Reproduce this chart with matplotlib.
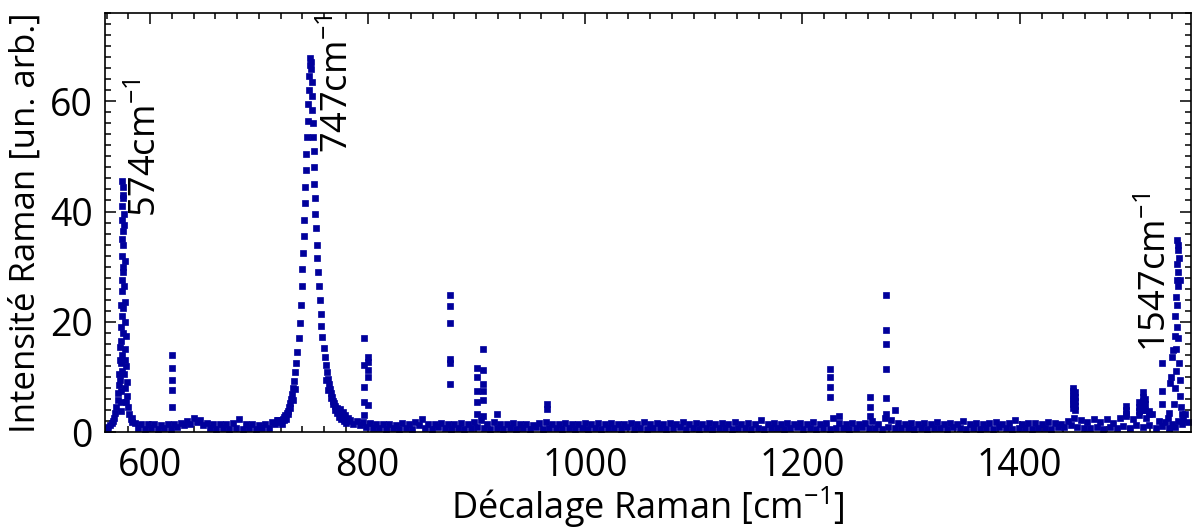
# Raman spectrum, scatter of square markers with three labelled peaks

import numpy as np
import matplotlib.pyplot as plt
from matplotlib.ticker import MultipleLocator

plt.rcParams['font.family'] = ['Open Sans', 'DejaVu Sans']
plt.rcParams['mathtext.fontset'] = 'custom'
plt.rcParams['mathtext.rm'] = 'Open Sans'
plt.rcParams['mathtext.it'] = 'Open Sans:italic'
plt.rcParams['mathtext.bf'] = 'Open Sans:bold'

# baseline between the 574 and 747 peaks, sampled every 3 cm-1
base_a_start = 583
base_a_y = [2.5, 1.6, 0.8, 1.5, 0.6, 1.4, 0.7, 1.5, 0.5, 1.3,
            0.8, 1.5, 0.6, 1.4, 0.9, 1.7, 1.2, 2.0, 1.5, 2.6,
            1.8, 2.2, 1.2, 1.7, 0.7, 1.4, 0.6, 1.5, 0.8, 1.4,
            0.5, 1.6, 0.8, 2.3, 0.6, 1.4, 0.7, 1.5, 0.6, 1.3,
            0.8, 1.5, 0.7, 1.9, 1.4, 2.1]

# baseline after the 747 peak up to the end of the range
base_b_start = 784
base_b_y = [2.2, 1.5, 2.0, 1.2, 1.8, 0.9, 1.6, 0.7, 1.5, 0.8,
            1.4, 0.6, 1.5, 0.7, 1.3, 0.5, 1.6, 0.8, 1.4, 0.6,
            1.9, 1.2, 2.4, 0.8, 1.5, 0.6, 1.4, 0.9, 1.6, 0.7,
            1.5, 0.6, 1.4, 0.8, 1.7, 0.5, 1.4, 0.8, 1.9, 1.0,
            2.2, 0.7, 1.5, 0.6, 1.8, 0.8, 1.4, 0.6, 1.5, 0.7,
            1.6, 0.5, 1.4, 0.8, 1.5, 0.6, 1.3, 0.9, 1.6, 0.6,
            1.8, 0.7, 1.5, 0.8, 1.4, 0.5, 1.6, 0.7, 1.5, 0.6,
            1.4, 0.8, 1.6, 0.6, 1.5, 0.7, 1.7, 0.5, 1.4, 0.8,
            1.6, 0.7, 1.5, 0.6, 1.4, 0.9, 1.7, 0.5, 1.5, 0.8,
            1.8, 0.6, 1.5, 0.7, 1.6, 0.8, 1.4, 0.6, 1.7, 0.7,
            1.5, 0.9, 1.8, 0.6, 1.4, 0.7, 1.6, 0.5, 1.5, 0.8,
            1.7, 0.6, 1.4, 0.8, 1.6, 0.7, 1.5, 0.6, 1.9, 0.8,
            1.5, 0.7, 1.6, 0.5, 1.4, 0.8, 2.1, 0.6, 1.5, 0.7,
            1.6, 0.8, 1.4, 0.6, 1.7, 0.7, 1.5, 0.9, 1.6, 0.6,
            1.5, 0.7, 1.8, 0.6, 1.4, 0.8, 1.6, 0.5, 2.5, 0.7,
            1.6, 0.8, 1.5, 0.6, 1.7, 0.7, 1.4, 0.9, 1.6, 0.8,
            2.0, 0.7, 1.5, 0.6, 2.6, 1.0, 2.2, 0.8, 1.6, 0.7,
            1.5, 0.8, 1.7, 0.6, 1.4, 0.7, 1.6, 0.5, 1.5, 0.8,
            1.8, 0.7, 1.5, 0.6, 1.6, 0.9, 1.4, 0.7, 2.0, 0.6,
            1.5, 0.8, 1.7, 0.6, 1.4, 0.7, 1.6, 0.5, 1.8, 0.9,
            1.5, 0.7, 1.6, 0.6, 2.1, 0.8, 1.5, 0.7, 1.7, 0.6,
            1.6, 0.8, 1.5, 0.7, 1.8, 0.6, 1.6, 0.9, 1.5, 1.0,
            2.0, 1.2, 2.6, 1.0, 2.2, 0.8, 1.9, 0.7, 2.4, 0.9,
            1.8, 0.6, 2.3, 1.0, 1.7, 0.7, 2.5, 1.1, 2.9, 0.8,
            2.4, 1.2, 3.0, 0.9, 2.6, 1.3, 3.2, 0.8, 2.0, 1.1,
            1.8, 0.7, 1.5, 0.9, 2.0, 1.4, 3.3, 1.8]
base_step = 3

# peak at 574 cm-1
p574_x = [560, 561.5, 563, 564.5, 566, 567, 568, 569, 570, 570.5,
          571, 571.5, 572, 572.5, 572.5, 573, 573, 573.5, 573.5, 574,
          574, 574, 574.5, 574.5, 574.5, 575, 575, 575, 575.5, 575.5,
          576, 576, 576.5, 576.5, 577, 577, 577.5, 578, 578.5, 579,
          580, 581, 582, 583,
          573, 573.5, 574, 574.5, 575, 575.5, 576, 576.5, 577, 577.5,
          574, 575, 574.5, 575.5, 576, 573.5]
p574_y = [0.6, 0.9, 1.2, 1.6, 2.0, 2.6, 3.4, 4.5, 5.8, 7.0,
          8.5, 10.5, 13.0, 15.5, 9.5, 19.0, 12.5, 23.0, 16.5, 27.5,
          21.0, 45.5, 32.0, 41.0, 25.5, 44.5, 36.5, 29.0, 42.5, 34.0,
          39.5, 26.5, 31.0, 20.0, 23.5, 15.0, 17.5, 12.0, 9.0, 6.5,
          4.6, 3.2, 2.4, 1.8,
          5.5, 7.5, 11.0, 14.0, 18.0, 22.5, 10.5, 13.0, 8.0, 5.5,
          38.5, 43.0, 35.0, 30.0, 37.5, 3.8]

# peak at 747 cm-1
p747_x = [717, 719, 720, 721, 721.5, 722, 723, 723.5, 724.5, 725, 725.5,
          726.5, 727, 727.5, 728.5, 729, 729.5, 730.5, 731, 731.5, 732.5,
          733, 733.5, 734.5, 735.5, 736.5, 737.5, 738.5, 739.3, 740, 740.6,
          741.2, 741.8, 742.3, 742.8, 743.3, 743.8, 744.3, 744.8, 745.3,
          745.8, 746.3, 746.8, 747.3, 747.8,
          748.3, 748.7, 749, 749.3, 749.6, 750, 750.4, 750.8, 751.2, 751.6,
          752.1, 752.6, 753.2, 753.8, 754.5, 755.2, 756, 756.8, 757.6,
          758.5, 759.5, 760.5, 761.5, 762, 762.5, 763.5, 764, 764.5, 765.5,
          766, 766.5, 767.5, 768, 768.5, 769.5, 770, 770.5, 771.5, 772,
          772.5, 773.5, 774, 774.5, 775, 775.5, 776, 776.5, 777, 777.5,
          778, 778.5, 779, 779.5, 780, 781, 782]
p747_y = [2.2, 1.8, 2.0, 2.2, 1.4, 2.4, 2.1, 2.7, 3.0, 2.4, 3.4,
          3.9, 3.3, 4.5, 5.2, 4.4, 6.0, 6.9, 5.8, 8.0, 9.3,
          7.8, 10.8, 12.5, 14.6, 17.0, 19.8, 23.0, 26.5, 29.5, 32.5,
          35.5, 38.5, 41.5, 44.5, 47.5, 50.5, 53.5, 56.5, 59.5,
          62.0, 64.5, 66.5, 67.8, 67.2,
          65.8, 63.5, 61.0, 58.5, 56.0, 53.5, 51.0, 48.0, 45.0, 42.5,
          39.5, 37.0, 34.0, 31.5, 29.0, 26.5, 24.0, 21.5, 19.3,
          17.2, 15.3, 13.6, 12.1, 9.5, 10.8, 9.7, 7.6, 8.7, 7.8,
          6.2, 7.0, 6.3, 5.0, 5.7, 5.2, 4.0, 4.7, 4.3, 3.4,
          3.9, 3.6, 2.8, 3.3, 4.2, 3.0, 2.4, 2.8, 3.6, 2.6,
          2.0, 2.4, 3.0, 2.2, 1.6, 2.0, 2.5]

# peak at 1547 cm-1
p1547_x = [1536, 1537, 1538, 1539, 1540, 1541, 1542, 1542.5, 1543, 1543,
           1543.5, 1544, 1544, 1544.5, 1544.5, 1545, 1545, 1545, 1545.5, 1545.5,
           1546, 1546, 1546, 1546.5, 1546.5, 1547, 1547, 1547.5, 1548, 1549,
           1550]
p1547_y = [2.6, 3.4, 8.9, 10.0, 13.6, 14.9, 5.0, 17.5, 8.0, 21.0,
           11.0, 24.5, 15.0, 27.5, 19.0, 30.5, 34.8, 23.0, 33.0, 26.5,
           34.0, 29.0, 17.0, 31.5, 12.5, 27.5, 9.5, 6.5, 4.5, 3.2,
           2.4]

# isolated spikes (cosmic rays and weak bands)
spike_x = [620, 620, 620, 620, 620,
           797, 797, 797, 797, 797,
           800, 800, 800, 800, 800,
           876, 876, 876, 876, 876, 876,
           901, 901, 901, 901, 901,
           906, 906, 906, 906, 906, 906,
           919, 965, 965,
           1225, 1225, 1225, 1225, 1234,
           1262, 1262, 1262,
           1277, 1277, 1277, 1277, 1277, 1277, 1285,
           1449, 1449, 1449, 1449, 1449, 1449, 1449,
           1451, 1451, 1451, 1451, 1451,
           1498, 1498, 1498, 1510, 1510, 1510,
           1513, 1513, 1513, 1513, 1513, 1515, 1515, 1515, 1519, 1519,
           1531, 1531, 1531]
spike_y = [14.0, 11.6, 9.4, 7.6, 4.5,
           17.0, 12.2, 8.2, 5.4, 3.1,
           13.6, 12.7, 11.3, 10.0, 4.9,
           24.9, 22.9, 19.8, 13.2, 12.5, 8.7,
           11.6, 10.0, 7.4, 5.4, 3.3,
           15.0, 11.2, 8.7, 7.4, 5.8, 2.9,
           3.3, 5.1, 4.2,
           11.4, 10.0, 8.2, 6.4, 2.9,
           6.4, 4.5, 2.9,
           24.9, 18.5, 16.0, 11.4, 6.2, 3.3, 4.0,
           8.0, 7.4, 6.8, 6.2, 5.6, 5.0, 4.4,
           7.2, 6.4, 5.6, 4.8, 4.0,
           4.8, 4.0, 3.3, 5.5, 4.6, 3.8,
           7.2, 6.4, 5.6, 4.8, 4.0, 6.0, 5.0, 4.0, 3.8, 3.2,
           12.5, 7.4, 5.1]

labels = ['574cm$^{-1}$', '747cm$^{-1}$', '1547cm$^{-1}$']
label_x = [597, 774, 1526]
label_y = [39, 50.6, 14.5]

base_a_x = base_a_start + base_step * np.arange(len(base_a_y))
base_b_x = base_b_start + base_step * np.arange(len(base_b_y))

x = np.concatenate([base_a_x, base_b_x, p574_x, p747_x, p1547_x, spike_x])
y = np.concatenate([base_a_y, base_b_y, p574_y, p747_y, p1547_y, spike_y])

fig = plt.figure(figsize=(11.96, 5.31), dpi=100)
ax = fig.add_axes([0.0878, 0.1864, 0.908, 0.789])

ax.plot(x, y, linestyle='none', marker='s', markersize=4.6,
        markeredgewidth=0.5, color='#00009c')

for txt, tx, ty in zip(labels, label_x, label_y):
    ax.text(tx, ty, txt, rotation=90, ha='center', va='bottom', fontsize=26)

ax.set_xlim(558.5, 1557.5)
ax.set_ylim(0, 76)
ax.xaxis.set_major_locator(MultipleLocator(200))
ax.xaxis.set_minor_locator(MultipleLocator(20))
ax.yaxis.set_major_locator(MultipleLocator(20))
ax.yaxis.set_minor_locator(MultipleLocator(2))
ax.tick_params(which='both', direction='in', top=True, right=True,
               labelsize=27, width=1.1)
ax.tick_params(which='major', length=8)
ax.tick_params(axis='x', which='major', pad=11)
ax.tick_params(axis='y', which='major', pad=9)
ax.tick_params(which='minor', length=4)
for sp in ax.spines.values():
    sp.set_linewidth(1.2)

ax.set_xlabel('Décalage Raman [cm$^{-1}$]', fontsize=26, labelpad=0)
ax.set_ylabel('Intensité Raman [un. arb.]', fontsize=25, labelpad=5)

fig.savefig('out.png', dpi=100)
